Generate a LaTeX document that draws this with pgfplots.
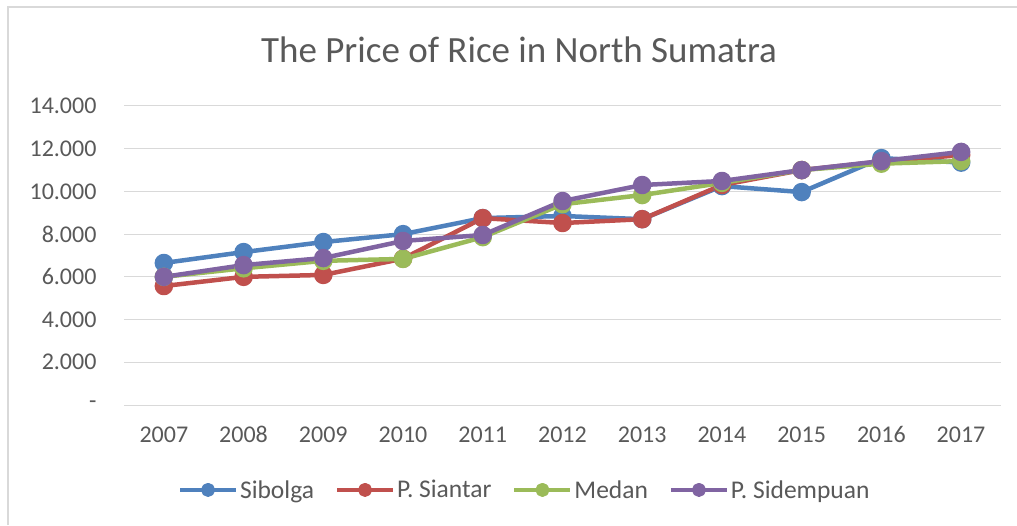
\documentclass[border=0pt]{standalone}
\usepackage{pgfplots}
\pgfplotsset{compat=1.18}
\usepackage{fontspec}
\setmainfont{Carlito}
\definecolor{cblue}{HTML}{4F81BD}
\definecolor{cred}{HTML}{C0504D}
\definecolor{cgreen}{HTML}{9BBB59}
\definecolor{cpurple}{HTML}{8064A2}
\definecolor{txtgray}{HTML}{595959}
\definecolor{gridgray}{HTML}{D9D9D9}
\begin{document}
\begin{tikzpicture}[x=1pt,y=1pt]
\useasboundingbox (0,0) rectangle (1017,525);
\draw[gridgray, line width=2pt] (8,0) -- (8,518) -- (1017,518);
\node[text=txtgray, font=\fontsize{37}{42}\selectfont] at (519,475) {The Price of Rice in North Sumatra};
\begin{axis}[
  at={(124pt,120pt)}, anchor=south west,
  scale only axis, width=877pt, height=299pt,
  xmin=2006.5, xmax=2017.5, ymin=0, ymax=14000,
  scaled y ticks=false,
  xtick={2007,...,2017},
  xticklabels={2007,2008,2009,2010,2011,2012,2013,2014,2015,2016,2017},
  ytick={0,2000,...,14000},
  yticklabels={{-\hspace{10pt}},2.000,4.000,6.000,8.000,10.000,12.000,14.000},
  ymajorgrids, grid style={gridgray, line width=1pt},
  axis line style={draw=none},
  major tick length=0pt,
  tick label style={text=txtgray, font=\fontsize{24}{28}\selectfont},
  yticklabel style={xshift=-24pt},
  xticklabel style={yshift=-18pt},
  every axis plot/.append style={line width=4.5pt, mark=*, mark size=7pt, line join=round},
  legend columns=4,
  legend style={draw=none, at={(0.457,-0.284)}, anchor=center,
    font=\fontsize{25.5}{30}\selectfont, text=txtgray,
    /tikz/every even column/.append style={column sep=19pt}},
  legend image code/.code={\draw[#1, mark size=5pt, line width=4pt, mark repeat=2, mark phase=2] plot coordinates {(0pt,0pt) (28pt,0pt) (56pt,0pt)};},
]
\draw[gridgray, line width=1pt] (axis cs:2006.5,0) -- (axis cs:2017.5,0);
\addplot[cblue, mark options={fill=cblue, draw=cblue}] coordinates {
(2007,6650) (2008,7160) (2009,7630) (2010,8000) (2011,8750) (2012,8850) (2013,8700) (2014,10250) (2015,9970) (2016,11560) (2017,11350)};
\addlegendentry{Sibolga}
\addplot[cred, mark options={fill=cred, draw=cred}] coordinates {
(2007,5570) (2008,6000) (2009,6090) (2010,6850) (2011,8750) (2012,8520) (2013,8700) (2014,10300) (2015,11000) (2016,11400) (2017,11700)};
\addlegendentry{P. Siantar}
\addplot[cgreen, mark options={fill=cgreen, draw=cgreen}] coordinates {
(2007,6000) (2008,6400) (2009,6750) (2010,6840) (2011,7860) (2012,9400) (2013,9830) (2014,10400) (2015,11000) (2016,11300) (2017,11420)};
\addlegendentry{Medan}
\addplot[cpurple, mark options={fill=cpurple, draw=cpurple}] coordinates {
(2007,6000) (2008,6550) (2009,6880) (2010,7680) (2011,7960) (2012,9550) (2013,10300) (2014,10490) (2015,11000) (2016,11420) (2017,11850)};
\addlegendentry{P. Sidempuan}
\end{axis}
\end{tikzpicture}
\end{document}
